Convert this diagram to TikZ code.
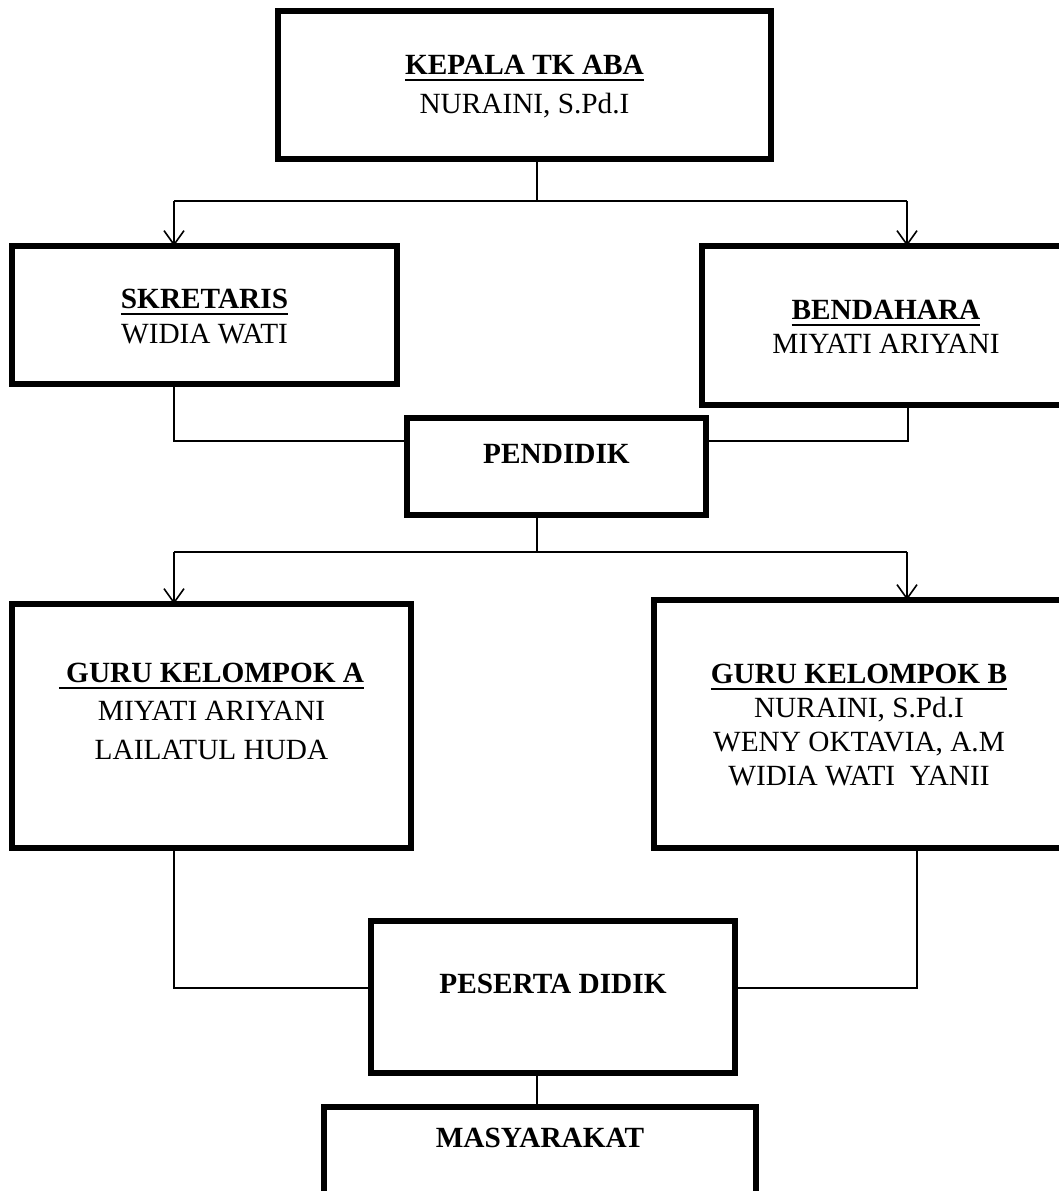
\documentclass[tikz,border=0pt]{standalone}
\usepackage{fontspec}
\setmainfont{Liberation Serif}
\usetikzlibrary{arrows.meta}
\newcommand\myul[1]{\setbox0\hbox{#1}\rlap{\rule[-6.5pt]{\wd0}{2pt}}\box0}
\tikzset{
  box/.style={draw, line width=6pt, rectangle, inner sep=0pt, outer sep=0pt},
  txt/.style={anchor=base, align=center, inner sep=0pt, font=\fontsize{29.3}{34}\selectfont},
  skip/.style={font=\fontsize{29.3}{#1}\selectfont},
  conn/.style={line width=1.6pt},
  arr/.style={line width=1.6pt, -{Straight Barb[length=14pt,width=20pt,line width=1.6pt]}}
}
\begin{document}
\begin{tikzpicture}[x=1pt,y=-1pt]
\clip (0,0) rectangle (1059,1191);
\fill[white] (0,0) rectangle (1059,1191);
% boxes
\node[box, minimum width=493pt, minimum height=148pt] (kepala) at (524.5,85) {};
\node[box, minimum width=385pt, minimum height=138pt] (skre) at (204.5,315) {};
\node[box, minimum width=368pt, minimum height=159pt] (benda) at (886,325.5) {};
\node[box, minimum width=299pt, minimum height=97pt] (pendidik) at (556.5,466.5) {};
\node[box, minimum width=399pt, minimum height=244pt] (gurua) at (211.5,726) {};
\node[box, minimum width=410pt, minimum height=248pt] (gurub) at (859,724) {};
\node[box, minimum width=364pt, minimum height=152pt] (peserta) at (553,997) {};
\node[box, minimum width=432pt, minimum height=123pt] (masya) at (540,1168.5) {};
% texts (anchor base = baseline of last line)
\node[txt, skip=39] (kepalat) at (524.5,113) {\textbf{\myul{KEPALA TK ABA}}\\NURAINI, S.Pd.I};
\node[txt, skip=35] (skret) at (204.5,343) {\textbf{\myul{SKRETARIS}}\\WIDIA WATI};
\node[txt, skip=34] (bendat) at (886,353) {\textbf{\myul{BENDAHARA}}\\MIYATI ARIYANI};
\node[txt] (pendidikt) at (556.5,463) {\textbf{PENDIDIK}};
\node[txt, skip=38.5] (guruat) at (211.5,759) {\textbf{\myul{\ GURU KELOMPOK A}}\\MIYATI ARIYANI\\LAILATUL HUDA};
\node[txt, skip=34] (gurubt) at (859,785) {\textbf{\myul{GURU KELOMPOK B}}\\NURAINI, S.Pd.I\\WENY OKTAVIA, A.M\\WIDIA WATI\ \ YANII};
\node[txt] (pesertat) at (553,993) {\textbf{PESERTA DIDIK}};
\node[txt] (masyat) at (540,1147) {\textbf{MASYARAKAT}};
% junction coordinates
\coordinate (j1) at (537,201);
\coordinate (j1l) at (174,201);
\coordinate (j1r) at (907,201);
\coordinate (j2l) at (174,441);
\coordinate (j2r) at (908,441);
\coordinate (j3) at (537,552);
\coordinate (j3l) at (174,552);
\coordinate (j3r) at (907,552);
\coordinate (j4l) at (174,988);
\coordinate (j4r) at (917,988);
\coordinate (j5) at (537,1100);
% connectors
\draw[conn] (j1 |- kepala.south) -- (j1);
\draw[conn] (j1l) -- (j1r);
\draw[arr] (j1l) -- (j1l |- skre.north);
\draw[arr] (j1r) -- (j1r |- benda.north);
\draw[conn] (j2l |- skre.south) -- (j2l) -- (j2l -| pendidik.west);
\draw[conn] (j2r |- benda.south) -- (j2r) -- (j2r -| pendidik.east);
\draw[conn] (j3 |- pendidik.south) -- (j3);
\draw[conn] (j3l) -- (j3r);
\draw[arr] (j3l) -- (j3l |- gurua.north);
\draw[arr] (j3r) -- (j3r |- gurub.north);
\draw[conn] (j4l |- gurua.south) -- (j4l) -- (j4l -| peserta.west);
\draw[conn] (j4r |- gurub.south) -- (j4r) -- (j4r -| peserta.east);
\draw[conn] (j5 |- peserta.south) -- (j5 |- masya.north);
\end{tikzpicture}
\end{document}
